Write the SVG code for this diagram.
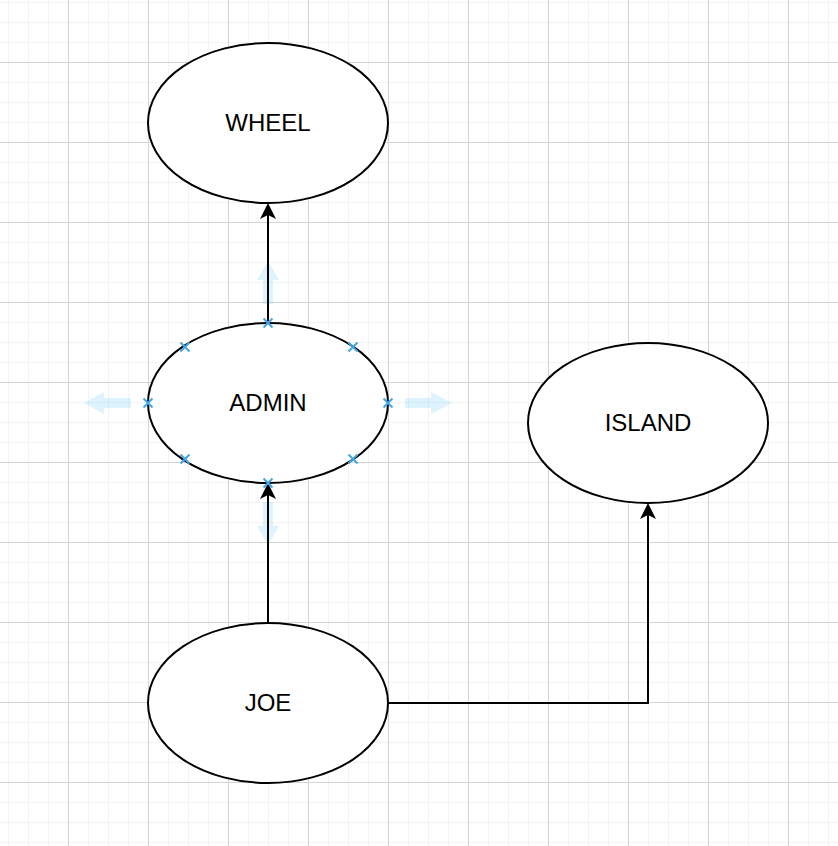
<svg xmlns="http://www.w3.org/2000/svg" width="838" height="846" viewBox="0 0 838 846">
  <defs>
    <pattern id="minor" x="8" y="2" width="20" height="20" patternUnits="userSpaceOnUse">
      <rect x="0" y="0" width="1" height="20" fill="#f3f3f3"/>
      <rect x="0" y="0" width="20" height="1" fill="#f3f3f3"/>
    </pattern>
    <pattern id="major" x="68" y="62" width="80" height="80" patternUnits="userSpaceOnUse">
      <rect x="0" y="0" width="1" height="80" fill="#d4d4d4"/>
      <rect x="0" y="0" width="80" height="1" fill="#d4d4d4"/>
    </pattern>
    <marker id="arrow" viewBox="-16 -8 16 16" refX="-12" refY="0" markerWidth="16" markerHeight="16" markerUnits="userSpaceOnUse" orient="auto">
      <path d="M0 0 L-16 -8 L-12 0 L-16 8 Z" fill="#000"/>
    </marker>
  </defs>
  <style>
    .node ellipse { fill: #fff; stroke: #000; stroke-width: 2; }
    .node text { font-family: "Liberation Sans", Arial, sans-serif; font-size: 24px; fill: #000; text-anchor: middle; }
    .edge { fill: none; stroke: #000; stroke-width: 2; marker-end: url(#arrow); }
    .hint { fill: #29b6f2; fill-opacity: 0.16; }
    .pt { stroke: #45a6e6; stroke-width: 2; fill: none; }
  </style>
  <rect width="838" height="846" fill="#fff"/>
  <rect width="838" height="846" fill="url(#minor)"/>
  <rect width="838" height="846" fill="url(#major)"/>

  <g id="hover-arrows">
    <path class="hint" d="M268 261 L279 280 L273 280 L273 304 L263 304 L263 280 L257 280 Z"/>
    <path class="hint" d="M268 545 L279 526 L273 526 L273 502 L263 502 L263 526 L257 526 Z"/>
    <path class="hint" d="M84 403 L104 392 L104 398 L131 398 L131 408 L104 408 L104 414 Z"/>
    <path class="hint" d="M452 403 L431 392 L431 398 L405 398 L405 408 L431 408 L431 414 Z"/>
  </g>

  <g id="node-wheel" class="node">
    <ellipse cx="268" cy="123" rx="120" ry="80"/>
    <text x="268" y="131">WHEEL</text>
  </g>
  <g id="node-admin" class="node">
    <ellipse cx="268" cy="403" rx="120" ry="80"/>
    <text x="268" y="411">ADMIN</text>
  </g>
  <g id="node-island" class="node">
    <ellipse cx="648" cy="423" rx="120" ry="80"/>
    <text x="648" y="431">ISLAND</text>
  </g>
  <g id="node-joe" class="node">
    <ellipse cx="268" cy="703" rx="120" ry="80"/>
    <text x="268" y="711">JOE</text>
  </g>

  <g id="connectors">
    <path class="edge" d="M268 323 L268 215"/>
    <path class="edge" d="M268 623 L268 495"/>
    <path class="edge" d="M388 703 L648 703 L648 515"/>
  </g>

  <g id="connection-points">
    <path class="pt" d="M263.5 318.5 L272.5 327.5 M272.5 318.5 L263.5 327.5"/>
    <path class="pt" d="M263.5 478.5 L272.5 487.5 M272.5 478.5 L263.5 487.5"/>
    <path class="pt" d="M143.5 398.5 L152.5 407.5 M152.5 398.5 L143.5 407.5"/>
    <path class="pt" d="M383.5 398.5 L392.5 407.5 M392.5 398.5 L383.5 407.5"/>
    <path class="pt" d="M180.5 342.5 L189.5 351.5 M189.5 342.5 L180.5 351.5"/>
    <path class="pt" d="M348.5 342.5 L357.5 351.5 M357.5 342.5 L348.5 351.5"/>
    <path class="pt" d="M180.5 454.5 L189.5 463.5 M189.5 454.5 L180.5 463.5"/>
    <path class="pt" d="M348.5 454.5 L357.5 463.5 M357.5 454.5 L348.5 463.5"/>
  </g>
</svg>
